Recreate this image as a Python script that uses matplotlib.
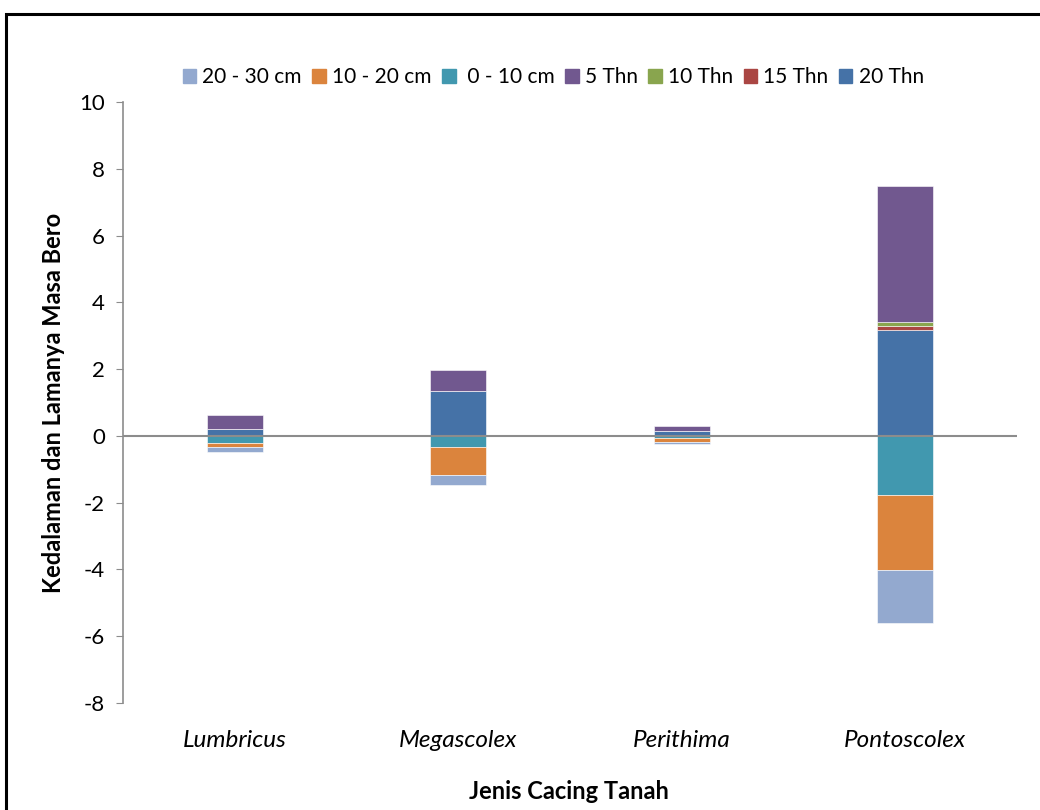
import numpy as np
import matplotlib
matplotlib.use("Agg")
import matplotlib.pyplot as plt
from matplotlib.patches import Rectangle

plt.rcParams['font.family'] = ['Lato', 'DejaVu Sans']
plt.rcParams['axes.unicode_minus'] = False

# === Data ===
species = ['Lumbricus', 'Megascolex', 'Perithima', 'Pontoscolex']

# depth layers (drawn below zero, 0-10 nearest the axis)
d_0_10 = [-0.20, -0.33, -0.06, -1.77]
d_10_20 = [-0.13, -0.84, -0.12, -2.24]
d_20_30 = [-0.14, -0.31, -0.07, -1.59]

# fallow age (drawn above zero, 20 Thn nearest the axis)
t_20 = [0.20, 1.34, 0.16, 3.18]
t_15 = [0.00, 0.00, 0.00, 0.11]
t_10 = [0.00, 0.00, 0.00, 0.12]
t_5 = [0.43, 0.62, 0.15, 4.08]

colors = {
    '20 - 30 cm': '#93A9CF',
    '10 - 20 cm': '#DB843D',
    ' 0 - 10 cm': '#4198AF',
    '5 Thn': '#71588F',
    '10 Thn': '#89A54E',
    '15 Thn': '#AA4643',
    '20 Thn': '#4572A7',
}

# === Plot ===
fig = plt.figure(figsize=(10.4, 8.1), dpi=100)
ax = fig.add_axes([0.1183, 0.1321, 0.8596, 0.7420])

x = np.arange(len(species))
w = 0.25

bottom = np.zeros(len(species))
for name, vals in [(' 0 - 10 cm', d_0_10), ('10 - 20 cm', d_10_20), ('20 - 30 cm', d_20_30)]:
    vals = np.array(vals)
    ax.bar(x, vals, w, bottom=bottom, color=colors[name],
           edgecolor='white', linewidth=0.4, zorder=2)
    bottom += vals

bottom = np.zeros(len(species))
for name, vals in [('20 Thn', t_20), ('15 Thn', t_15), ('10 Thn', t_10), ('5 Thn', t_5)]:
    vals = np.array(vals)
    ax.bar(x, vals, w, bottom=bottom, color=colors[name],
           edgecolor='white', linewidth=0.4, zorder=2)
    bottom += vals

ax.axhline(0, color='#8C8C8C', linewidth=1.5, zorder=3)

ax.set_xlim(-0.5, 3.5)
ax.set_ylim(-8, 10)
ax.set_yticks(np.arange(-8, 11, 2))
ax.tick_params(axis='y', labelsize=16, length=5, color='#8C8C8C', pad=8)
ax.set_xticks(x)
ax.set_xticklabels(species, fontsize=17.5, style='italic')
ax.tick_params(axis='x', length=0, pad=0)
for lbl in ax.get_xticklabels():
    lbl.set_y(-0.045)

for s in ['top', 'right', 'bottom']:
    ax.spines[s].set_visible(False)
ax.spines['left'].set_color('#8C8C8C')
ax.spines['left'].set_linewidth(1.2)

ax.set_ylabel('Kedalaman dan Lamanya Masa Bero', fontsize=17, fontweight='bold', labelpad=10)
fig.text(0.5475, 0.013, 'Jenis Cacing Tanah', fontsize=17, fontweight='bold', ha='center')

order = ['20 - 30 cm', '10 - 20 cm', ' 0 - 10 cm', '5 Thn', '10 Thn', '15 Thn', '20 Thn']
handles = [Rectangle((0, 0), 1, 1, color=colors[n]) for n in order]
fig.legend(handles, order, loc='center', bbox_to_anchor=(0.532, 0.905), ncol=7,
           frameon=False, fontsize=15, handlelength=0.65, handleheight=0.65,
           handletextpad=0.3, columnspacing=0.5)

# outer chart frame (cut off at right and bottom like the reference)
fig.patches.append(Rectangle((6 / 1040, -0.1), 1.2, 1 - 14 / 810 + 0.1,
                             transform=fig.transFigure, fill=False,
                             edgecolor='black', linewidth=2.2))

fig.savefig('out.png', dpi=100)
